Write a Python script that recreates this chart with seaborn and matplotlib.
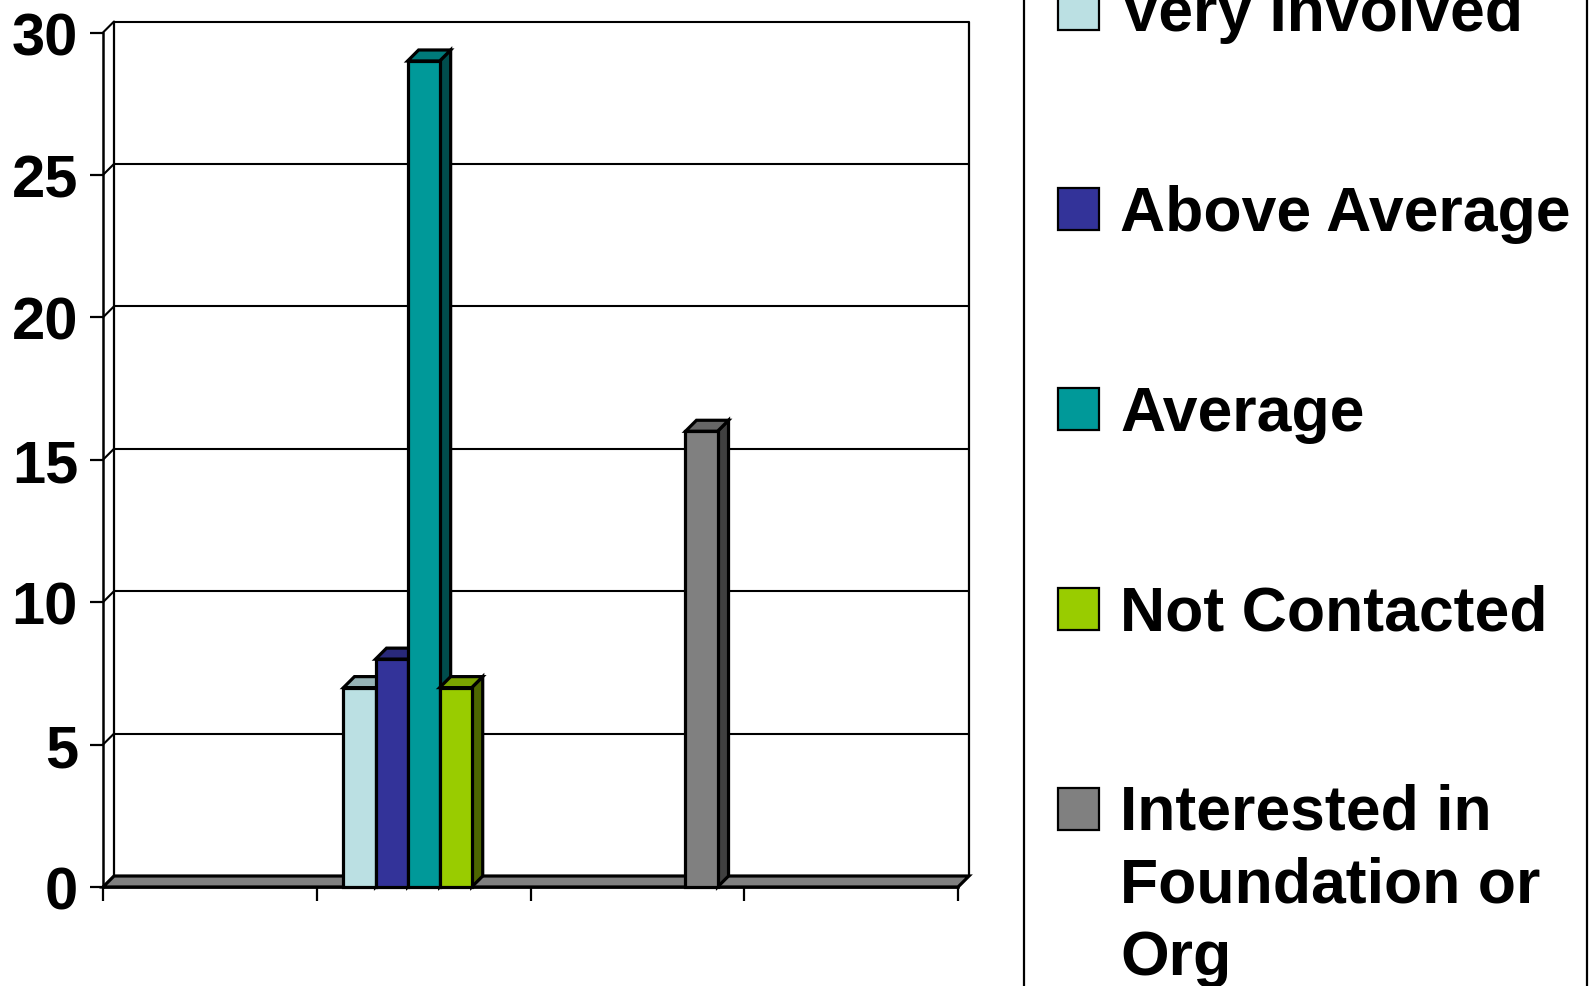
import numpy as np
import pandas as pd
import matplotlib
matplotlib.use("Agg")
import matplotlib.pyplot as plt
import matplotlib.colors as mcolors
from matplotlib.patches import Polygon, Rectangle
import seaborn as sns

# ---------------- data ----------------
categories = ["1", "2", "3", "4"]
series = ["Very Involved", "Above Average", "Average", "Not Contacted",
          "Interested in\nFoundation or\nOrg"]
very_involved = [0, 7, 0, 0]
above_average = [0, 8, 0, 0]
average = [0, 29, 0, 0]
not_contacted = [0, 7, 0, 0]
interested = [0, 0, 16, 0]
colors = ["#BBE0E3", "#333399", "#009999", "#99CC00", "#808080"]
y_ticks = [0, 5, 10, 15, 20, 25, 30]

# ---------------- style ----------------
W, H = 1596, 987
sns.set_style("white")
plt.rcParams["font.family"] = ["Liberation Sans", "DejaVu Sans"]
plt.rcParams["font.weight"] = "bold"

values = [very_involved, above_average, average, not_contacted, interested]
df = pd.DataFrame({
    "category": np.tile(categories, len(series)),
    "series": np.repeat(series, len(categories)),
    "value": np.concatenate(values),
})

fig = plt.figure(figsize=(W / 100, H / 100), dpi=100)
fig.patch.set_facecolor("white")
left_px, right_px, zero_px, top_px = 103, 958, 888, 33.5
ax = fig.add_axes([left_px / W, 1 - zero_px / H,
                   (right_px - left_px) / W, (zero_px - top_px) / H])
ax.set_facecolor("none")

EDGE = 2.3
sns.barplot(data=df, x="category", y="value", hue="series",
            order=categories, hue_order=series, palette=colors,
            saturation=1, width=0.75, edgecolor="black", linewidth=EDGE,
            legend=False, ax=ax)
ax.set_xlim(-0.5, len(categories) - 0.5)
ax.set_ylim(0, y_ticks[-1])

# depth offset (pixels) converted to data units
depth = 11
p0 = ax.transData.transform((0, 0))
ddx, ddy = ax.transData.inverted().transform((p0[0] + depth, p0[1] + depth))

xl, xr = ax.get_xlim()
ytop = y_ticks[-1]

# back wall gridlines + side-wall diagonals
for v in y_ticks[1:]:
    ax.plot([xl + ddx, xr + ddx], [v + ddy, v + ddy], color="black", lw=1.5,
            zorder=1, clip_on=False, solid_capstyle="butt")
    ax.plot([xl, xl + ddx], [v, v + ddy], color="black", lw=1.5,
            zorder=1, clip_on=False)
ax.plot([xl + ddx, xl + ddx], [ddy, ytop + ddy], color="black", lw=1.6,
        zorder=1, clip_on=False)
ax.plot([xr + ddx, xr + ddx], [ddy, ytop + ddy], color="black", lw=1.6,
        zorder=1, clip_on=False)

# floor
floor = Polygon([(xl, 0), (xr, 0), (xr + ddx, ddy), (xl + ddx, ddy)],
                closed=True, fc="#808080", ec="black", lw=2.3, zorder=2,
                clip_on=False, joinstyle="miter")
ax.add_patch(floor)

# 3D bars
bars = []
for ci, cont in enumerate(ax.containers):
    for p in cont.patches:
        bars.append((p, colors[ci]))
bars.sort(key=lambda t: t[0].get_x())
for k, (p, c) in enumerate(bars):
    h = p.get_height()
    if not np.isfinite(h) or h <= 0:
        p.set_visible(False)
        continue
    x, w = p.get_x(), p.get_width()
    z = 3 + k * 0.1
    p.set_zorder(z + 0.05)
    p.set_clip_on(False)
    rgb = np.array(mcolors.to_rgb(c))
    side = Polygon([(x + w, 0), (x + w + ddx, ddy), (x + w + ddx, h + ddy), (x + w, h)],
                   closed=True, fc=rgb * 0.5, ec="black", lw=EDGE, zorder=z,
                   clip_on=False, joinstyle="miter")
    top = Polygon([(x, h), (x + w, h), (x + w + ddx, h + ddy), (x + ddx, h + ddy)],
                  closed=True, fc=rgb * 0.8, ec="black", lw=EDGE, zorder=z,
                  clip_on=False, joinstyle="miter")
    ax.add_patch(side)
    ax.add_patch(top)

# spines & ticks
for s in ["top", "right"]:
    ax.spines[s].set_visible(False)
for s in ["left", "bottom"]:
    ax.spines[s].set_visible(True)
    ax.spines[s].set_color("black")
    ax.spines[s].set_linewidth(1.8)
ax.spines["left"].set_zorder(10)

ax.set_yticks(y_ticks)
ax.set_yticklabels([str(t) for t in y_ticks])
ax.tick_params(axis="y", left=True, direction="out", length=9.4, width=1.6,
               pad=8.6, labelsize=43, color="black", labelcolor="black")
for lbl in ax.get_yticklabels():
    lbl.set_fontweight("bold")

ax.set_xticks([])
ax.set_xticks(np.arange(-0.5, len(categories)), minor=True)
ax.tick_params(axis="x", which="minor", bottom=True, direction="out",
               length=10, width=1.6, color="black", labelbottom=False)
ax.set_xlabel("")
ax.set_ylabel("")

# legend (drawn by hand to match the layout)
leg_left, leg_right = 1024, 1587
fig.add_artist(Rectangle((leg_left / W, -0.05), (leg_right - leg_left) / W, 1.1,
                         transform=fig.transFigure, fill=False, ec="black", lw=1.6))
first_base, spacing, line_gap = 31, 200, 72
for i, (name, c) in enumerate(zip(series, colors)):
    base = first_base + i * spacing
    fig.add_artist(Rectangle((1058 / W, 1 - base / H), 41 / W, 42 / H,
                             transform=fig.transFigure, fc=c, ec="black", lw=1.6))
    last_base = base + name.count("\n") * line_gap
    fig.text(1120 / W, 1 - last_base / H, name, fontsize=45, fontweight="bold",
             ha="left", va="baseline", linespacing=1.30, color="black")

fig.savefig("out.png", dpi=100, facecolor="white")
